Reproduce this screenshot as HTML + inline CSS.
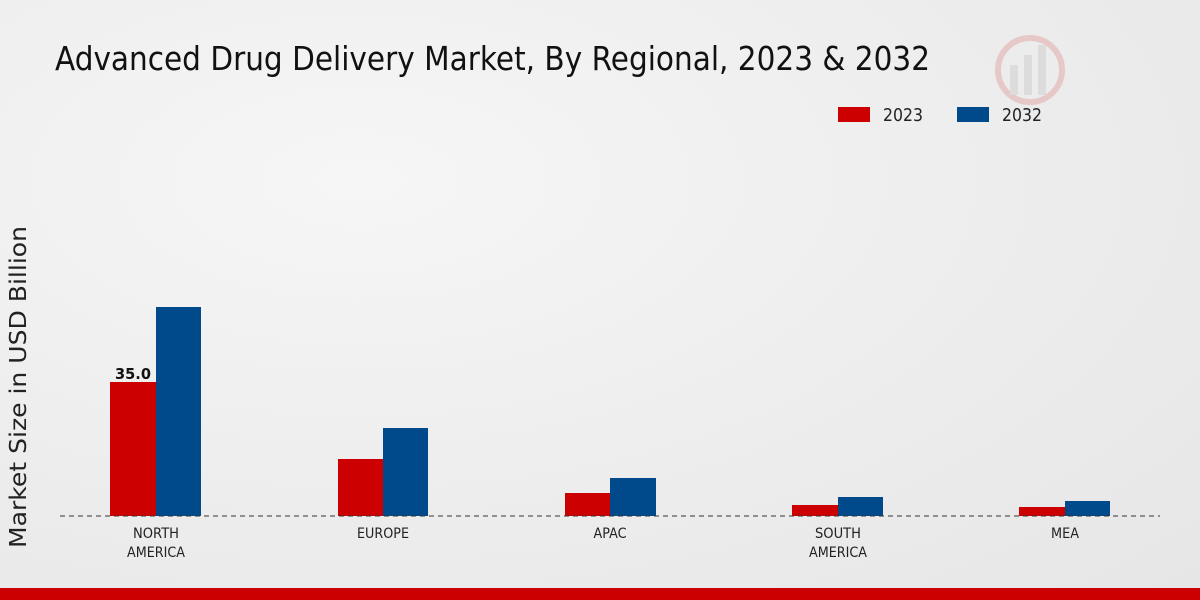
<!DOCTYPE html>
<html><head><meta charset="utf-8"><style>
html,body{margin:0;padding:0}
body{width:1200px;height:600px;overflow:hidden;background:radial-gradient(ellipse at 30% 30%,#f6f6f6 0%,#ececec 60%,#e6e6e6 100%);font-family:"DejaVu Sans","Liberation Sans",sans-serif}
</style></head><body>
<svg width="1200" height="600" xmlns="http://www.w3.org/2000/svg" style="position:absolute;left:0;top:0">
<text x="55" y="70" font-size="33" fill="#111" textLength="875" lengthAdjust="spacingAndGlyphs">Advanced Drug Delivery Market, By Regional, 2023 &amp; 2032</text>
<g opacity="0.15"><circle cx="1030" cy="70" r="32" fill="none" stroke="#c00" stroke-width="6"/><rect x="1010" y="65" width="8" height="30" fill="#888"/><rect x="1024" y="55" width="8" height="40" fill="#888"/><rect x="1038" y="45" width="8" height="50" fill="#888"/></g>
<rect x="838" y="107" width="32" height="15" fill="#cc0000"/>
<text x="883" y="121" font-size="18" fill="#222" textLength="40" lengthAdjust="spacingAndGlyphs">2023</text>
<rect x="957" y="107" width="32" height="15" fill="#004a8c"/>
<text x="1002" y="121" font-size="18" fill="#222" textLength="40" lengthAdjust="spacingAndGlyphs">2032</text>
<text transform="translate(26,548) rotate(-90)" font-size="23" fill="#222" textLength="322" lengthAdjust="spacingAndGlyphs">Market Size in USD Billion</text>
<g>
<rect x="110" y="382" width="46" height="134" fill="#cc0000"/><rect x="156" y="307" width="45" height="209" fill="#004a8c"/>
<rect x="338" y="459" width="45" height="57" fill="#cc0000"/><rect x="383" y="428" width="45" height="88" fill="#004a8c"/>
<rect x="565" y="493" width="45" height="23" fill="#cc0000"/><rect x="610" y="478" width="46" height="38" fill="#004a8c"/>
<rect x="792" y="505" width="46" height="11" fill="#cc0000"/><rect x="838" y="497" width="45" height="19" fill="#004a8c"/>
<rect x="1019" y="507" width="46" height="9" fill="#cc0000"/><rect x="1065" y="501" width="45" height="15" fill="#004a8c"/>
</g>
<line x1="60" y1="516" x2="1160" y2="516" stroke="#333" stroke-width="1" stroke-dasharray="5,4"/>
<text x="133" y="379" font-size="15" font-weight="bold" fill="#111" text-anchor="middle" textLength="36" lengthAdjust="spacingAndGlyphs">35.0</text>
<g font-size="14" fill="#222" text-anchor="middle">
<text x="156" y="538" textLength="46" lengthAdjust="spacingAndGlyphs">NORTH</text><text x="156" y="557" textLength="58" lengthAdjust="spacingAndGlyphs">AMERICA</text>
<text x="383" y="538" textLength="52" lengthAdjust="spacingAndGlyphs">EUROPE</text>
<text x="610" y="538" textLength="33" lengthAdjust="spacingAndGlyphs">APAC</text>
<text x="838" y="538" textLength="46" lengthAdjust="spacingAndGlyphs">SOUTH</text><text x="838" y="557" textLength="58" lengthAdjust="spacingAndGlyphs">AMERICA</text>
<text x="1065" y="538" textLength="28" lengthAdjust="spacingAndGlyphs">MEA</text>
</g>
<rect x="0" y="588" width="1200" height="12" fill="#cc0000"/>
</svg>
</body></html>
